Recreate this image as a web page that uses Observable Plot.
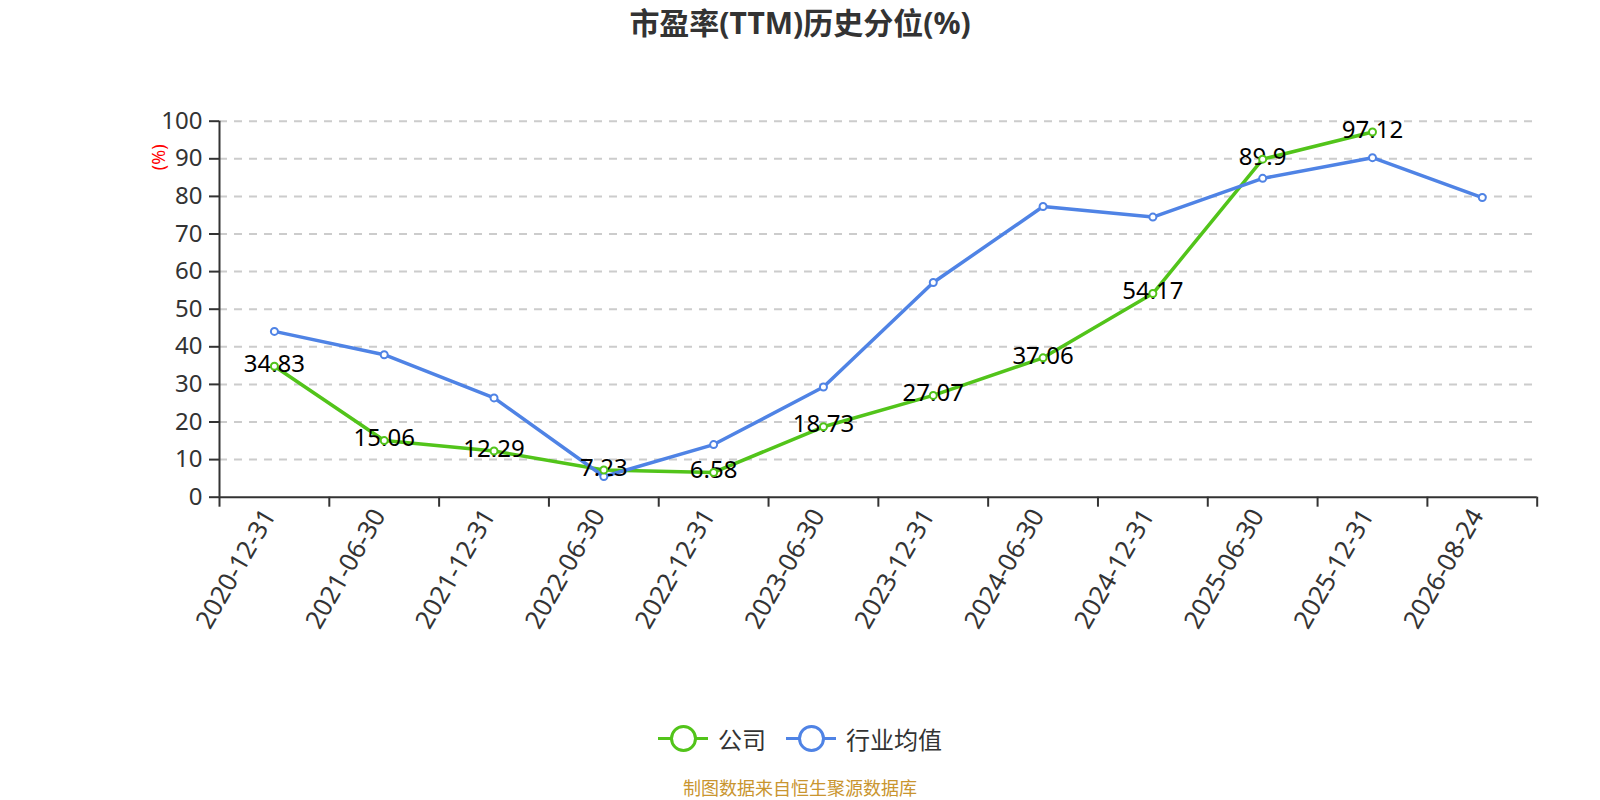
<!DOCTYPE html>
<html><head><meta charset="utf-8">
<script src="https://cdn.jsdelivr.net/npm/d3@7"></script>
<script src="https://cdn.jsdelivr.net/npm/@observablehq/plot@0.6"></script>
<style>
body{margin:0;background:#fff;font-family:"Noto Sans","Noto Sans CJK SC",sans-serif;}
#wrap{width:1600px;height:800px;position:relative;overflow:hidden;background:#fff}
#title{height:46px;line-height:46px;text-align:center;font-size:30px;font-weight:bold;color:#333}
#chart svg{display:block}
#legend{height:76px;display:flex;justify-content:center;align-items:center;font-size:24px;color:#333}
.item{display:flex;align-items:center;margin:0 10px}
.icon{position:relative;width:50px;height:28px;margin-right:10px}
.icon .ln{position:absolute;left:0;right:0;top:12.5px;height:3px}
.icon .ci{position:absolute;left:11.5px;top:0.5px;width:21px;height:21px;border-radius:50%;background:#fff;border:3px solid}
#caption{height:24px;line-height:24px;text-align:center;font-size:18px;color:#c9952f}
</style></head>
<body>
<div id="wrap">
  <div id="title">市盈率(TTM)历史分位(%)</div>
  <div id="chart"></div>
  <div id="legend"></div>
  <div id="caption">制图数据来自恒生聚源数据库</div>
</div>
<script>
const dates = ["2020-12-31","2021-06-30","2021-12-31","2022-06-30","2022-12-31","2023-06-30","2023-12-31","2024-06-30","2024-12-31","2025-06-30","2025-12-31","2026-08-24"];
const company = [34.83,15.06,12.29,7.23,6.58,18.73,27.07,37.06,54.17,89.9,97.12,null];
const industry = [44.1,37.9,26.4,5.5,14.0,29.3,57.1,77.3,74.5,84.8,90.3,79.7];
const yTicks = [0,10,20,30,40,50,60,70,80,90,100];
const seriesNames = ["公司","行业均值"];
const seriesColors = ["#52c41a","#4f83e5"];

const rows = dates.map((d,i)=>({i: i+0.5, date: d, company: company[i], industry: industry[i]}));
const green = seriesColors[0], blue = seriesColors[1];
const font = '"Noto Sans","Noto Sans CJK SC",sans-serif';

const chart = Plot.plot({
  width: 1600, height: 654,
  marginTop: 74.7, marginBottom: 203.3, marginLeft: 219, marginRight: 63.3,
  style: {fontFamily: font, fontSize: "24px", background: "#fff", color: "#333", overflow: "visible"},
  x: {domain: [0, 12]},
  y: {domain: [0, 100]},
  marks: [
    Plot.gridY(yTicks.slice(1), {stroke: "#ccc", strokeOpacity: 1, strokeWidth: 2, strokeDasharray: "8,7"}),
    Plot.axisY(yTicks, {tickSize: 10, tickPadding: 7, label: null, fontSize: 24, color: "#333", strokeWidth: 2}),
    Plot.axisX(d3.range(13), {tickSize: 10, tickFormat: () => "", label: null, stroke: "#333", strokeWidth: 2}),
    Plot.axisX(rows.map(r => r.i), {tickSize: 0, tickPadding: 14, tickRotate: -60, dx: -5, tickFormat: v => dates[Math.round(v - 0.5)], label: null, fontSize: 25.5, color: "#333"}),
    Plot.ruleX([0], {stroke: "#333", strokeWidth: 2}),
    Plot.ruleY([0], {stroke: "#333", strokeWidth: 2}),
    Plot.lineY(rows, {x: "i", y: "company", stroke: green, strokeWidth: 3.5}),
    Plot.lineY(rows, {x: "i", y: "industry", stroke: blue, strokeWidth: 3.5}),
    Plot.text(rows.filter(r => r.company != null), {x: "i", y: "company", text: r => String(r.company), fontSize: 24, fill: "#000", dy: -2}),
    Plot.dot(rows, {x: "i", y: "industry", r: 3.5, fill: "#fff", stroke: blue, strokeWidth: 2}),
    Plot.dot(rows.filter(r => r.company != null), {x: "i", y: "company", r: 3.5, fill: "#fff", stroke: green, strokeWidth: 2}),
    Plot.text(["(%)"], {frameAnchor: "top-left", dx: -67, dy: 49, rotate: -90, fill: "red", fontSize: 18})
  ]
});
document.getElementById("chart").appendChild(chart);

const legend = document.getElementById("legend");
seriesNames.forEach((name, k) => {
  const item = document.createElement("div");
  item.className = "item";
  item.innerHTML = `<div class="icon"><div class="ln" style="background:${seriesColors[k]}"></div><div class="ci" style="border-color:${seriesColors[k]}"></div></div><span>${name}</span>`;
  legend.appendChild(item);
});
</script>
</body></html>
